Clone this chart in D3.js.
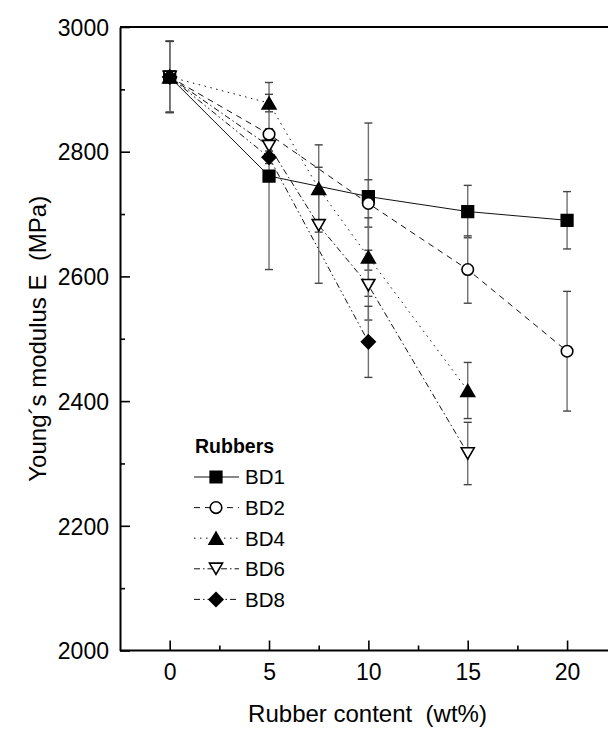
<!DOCTYPE html>
<html>
<head>
<meta charset="utf-8">
<script src="https://cdn.jsdelivr.net/npm/d3@7"></script>
<style>
  html, body { margin: 0; padding: 0; background: #fff; }
  svg { display: block; }
  text { font-family: "Liberation Sans", Arial, Helvetica, sans-serif; fill: #000; }
</style>
</head>
<body>
<svg id="chart" width="608" height="729"></svg>
<script>
// Rubber content (wt%) for each blend series
const xBD1 = [0, 5, 10, 15, 20];
const xBD2 = [0, 5, 10, 15, 20];
const xBD4 = [0, 5, 7.5, 10, 15];
const xBD6 = [0, 5, 7.5, 10, 15];
const xBD8 = [0, 5, 10];

// Young's modulus (MPa)
const eBD1 = [2920, 2761, 2728, 2704, 2690];
const eBD2 = [2920, 2828, 2717, 2611, 2480];
const eBD4 = [2920, 2878, 2741, 2631, 2417];
const eBD6 = [2920, 2809, 2682, 2586, 2316];
const eBD8 = [2920, 2791, 2495];

// Standard deviations (MPa)
const sBD1 = [57, 150, 118, 42, 46];
const sBD2 = [57, 9, 38, 54, 96];
const sBD4 = [57, 14, 70, 63, 45];
const sBD6 = [57, 12, 93, 56, 50];
const sBD8 = [57, 10, 57];

const seriesNames = ["BD1", "BD2", "BD4", "BD6", "BD8"];
const xTicks = [0, 5, 10, 15, 20];
const yTicks = [2000, 2200, 2400, 2600, 2800, 3000];
const xTitle = "Rubber content\u00a0\u00a0(wt%)";
const yTitle = "Young\u00b4s modulus E\u00a0\u00a0(MPa)";
const legendTitle = "Rubbers";

// custom marker shapes
const downTriangle = {
  draw(ctx, size) {
    const s = Math.sqrt(size);
    const h = s * 0.87;
    ctx.moveTo(-s / 2, -h / 2);
    ctx.lineTo(s / 2, -h / 2);
    ctx.lineTo(0, h / 2);
    ctx.closePath();
  }
};
const upTriangle = {
  draw(ctx, size) {
    const s = Math.sqrt(size);
    const h = s * 0.87;
    ctx.moveTo(-s / 2, h / 2);
    ctx.lineTo(s / 2, h / 2);
    ctx.lineTo(0, -h / 2);
    ctx.closePath();
  }
};
const squareDiamond = {
  draw(ctx, size) {
    const r = Math.sqrt(size) / 2;
    ctx.moveTo(0, -r);
    ctx.lineTo(r, 0);
    ctx.lineTo(0, r);
    ctx.lineTo(-r, 0);
    ctx.closePath();
  }
};

const series = [
  { name: seriesNames[0], x: xBD1, y: eBD1, s: sBD1, dash: null,          shape: d3.symbolSquare, size: 135, fill: "#000" },
  { name: seriesNames[1], x: xBD2, y: eBD2, s: sBD2, dash: "6,5",         shape: d3.symbolCircle, size: 105, fill: "#fff" },
  { name: seriesNames[2], x: xBD4, y: eBD4, s: sBD4, dash: "1.5,4.5",     shape: upTriangle,      size: 190, fill: "#000" },
  { name: seriesNames[3], x: xBD6, y: eBD6, s: sBD6, dash: "6,3,1.5,3",   shape: downTriangle,    size: 170, fill: "#fff" },
  { name: seriesNames[4], x: xBD8, y: eBD8, s: sBD8, dash: "6,3,1.5,3,1.5,3", shape: squareDiamond, size: 190, fill: "#000" }
];

const svg = d3.select("#chart");
const mLeft = 120, mBottom = 650.5, mTop = 27;

const x = d3.scaleLinear().domain([-2.5, 22.5]).range([mLeft, mLeft + 25 * 19.87]);
const y = d3.scaleLinear().domain([2000, 3000]).range([mBottom, mTop]);

// axes (ticks point inward)
const xAxis = d3.axisBottom(x).tickValues(d3.range(0, 22.5, 2.5)).tickSizeInner(-10).tickSizeOuter(0)
  .tickFormat(d => xTicks.includes(d) ? d : "");
const gx = svg.append("g").attr("transform", `translate(0,${mBottom})`).call(xAxis);
gx.selectAll(".tick line").attr("y2", (d) => xTicks.includes(d) ? -10 : -5);

const yAxis = d3.axisLeft(y).tickValues(d3.range(2000, 3001, 100)).tickSizeInner(-10).tickSizeOuter(0)
  .tickFormat(d => yTicks.includes(d) ? d : "");
const gy = svg.append("g").attr("transform", `translate(${mLeft},0)`).call(yAxis);
gy.selectAll(".tick line").attr("x2", (d) => yTicks.includes(d) ? 10 : 5);

[gx, gy].forEach(g => {
  g.select(".domain").attr("stroke", "#000").attr("stroke-width", 2);
  g.selectAll(".tick line").attr("stroke", "#000").attr("stroke-width", 1.6);
  g.selectAll(".tick text").attr("font-size", 23).attr("font-family", "Liberation Sans, Arial, sans-serif");
});
gx.selectAll(".tick text").attr("y", 29.5).attr("dy", 0);
gy.selectAll(".tick text").attr("x", -11).attr("dy", "0.36em");
gx.select(".domain").attr("d", `M${mLeft},0H608`);

// top frame line
svg.append("line").attr("x1", mLeft).attr("x2", 608).attr("y1", mTop).attr("y2", mTop)
  .attr("stroke", "#000").attr("stroke-width", 2);

// axis titles
svg.append("text").attr("x", 367.5).attr("y", 722)
  .attr("text-anchor", "middle").attr("font-size", 24).text(xTitle);
svg.append("text").attr("transform", `translate(46,${(mTop + mBottom) / 2}) rotate(-90)`)
  .attr("text-anchor", "middle").attr("font-size", 24).text(yTitle);

const plot = svg.append("g");

// connecting lines
series.forEach(sr => {
  const pts = sr.x.map((v, i) => [v, sr.y[i]]);
  plot.append("path")
    .attr("d", d3.line().x(d => x(d[0])).y(d => y(d[1]))(pts))
    .attr("fill", "none").attr("stroke", "#111").attr("stroke-width", 1)
    .attr("stroke-dasharray", sr.dash);
});

// error bars
series.forEach(sr => {
  sr.x.forEach((v, i) => {
    const cx = x(v), y1 = y(sr.y[i] + sr.s[i]), y2 = y(sr.y[i] - sr.s[i]);
    const g = plot.append("g").attr("stroke", "#707070").attr("stroke-width", 1.4);
    g.append("line").attr("x1", cx).attr("x2", cx).attr("y1", y1).attr("y2", y2);
    g.append("line").attr("x1", cx - 4).attr("x2", cx + 4).attr("y1", y1).attr("y2", y1).attr("stroke", "#444");
    g.append("line").attr("x1", cx - 4).attr("x2", cx + 4).attr("y1", y2).attr("y2", y2).attr("stroke", "#444");
  });
});

// markers
series.forEach(sr => {
  const sym = d3.symbol().type(sr.shape).size(sr.size);
  sr.x.forEach((v, i) => {
    plot.append("path").attr("d", sym())
      .attr("transform", `translate(${x(v)},${y(sr.y[i])})`)
      .attr("fill", sr.fill).attr("stroke", "#000").attr("stroke-width", 1.6);
  });
});

// legend
const lg = svg.append("g");
lg.append("text").attr("x", 195).attr("y", 453).attr("font-size", 19.5).attr("font-weight", "bold").text(legendTitle);
series.forEach((sr, i) => {
  const cy = 477 + i * 30.6;
  lg.append("line").attr("x1", 194).attr("x2", 239).attr("y1", cy).attr("y2", cy)
    .attr("stroke", "#111").attr("stroke-width", 1).attr("stroke-dasharray", sr.dash);
  lg.append("path").attr("d", d3.symbol().type(sr.shape).size(sr.size)())
    .attr("transform", `translate(216,${cy})`)
    .attr("fill", sr.fill).attr("stroke", "#000").attr("stroke-width", 1.6);
  lg.append("text").attr("x", 245).attr("y", cy).attr("dy", "0.36em").attr("font-size", 20.5).text(sr.name);
});
</script>
</body>
</html>
